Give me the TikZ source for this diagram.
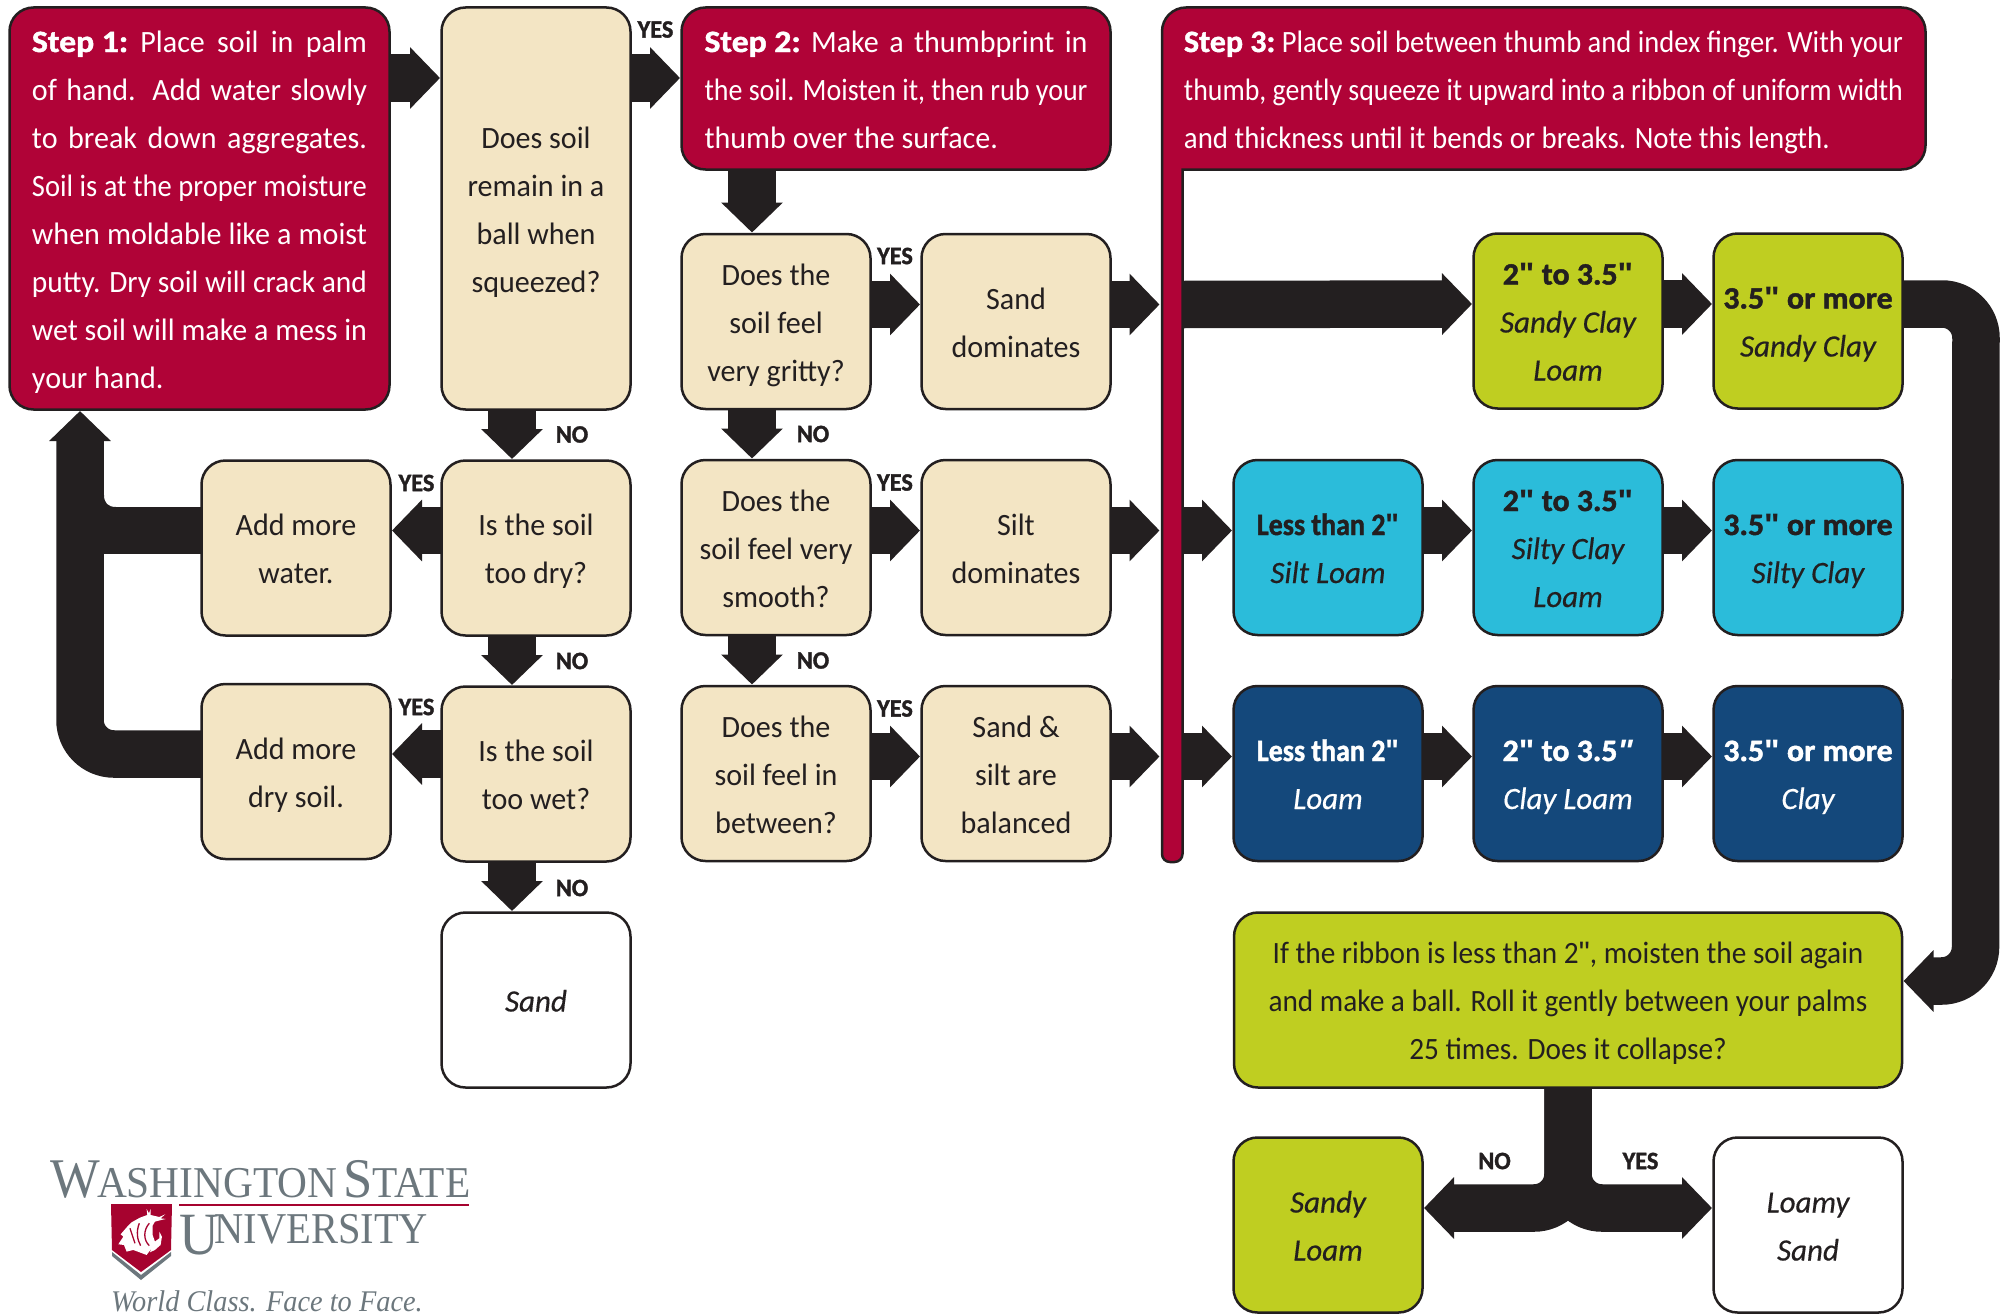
\documentclass[tikz,border=0pt]{standalone}
\usepackage{graphicx}
\usepackage{fontspec}
\setmainfont[FakeStretch=0.97,BoldFeatures={FakeBold=1.4}]{Carlito}
\newfontfamily\ribbonfont[FakeStretch=0.945]{Carlito}
\newfontfamily\soilfont[UprightFont=* Italic,FakeBold=0.4]{Carlito}
\newfontfamily\logofont{Liberation Serif}
\newfontfamily\quotefont{Liberation Sans}
\usetikzlibrary{shapes.geometric,arrows.meta,positioning,calc}
\definecolor{crimson}{HTML}{B00337}
\definecolor{cream}{HTML}{F3E5C4}
\definecolor{olive}{HTML}{BFCE21}
\definecolor{aqua}{HTML}{2BBCDA}
\definecolor{navy}{HTML}{14487B}
\definecolor{ink}{HTML}{231F20}
\definecolor{logogrey}{HTML}{6C777D}
\definecolor{logored}{HTML}{A6032F}
\newsavebox\fitbox
\newcommand\fitline[2]{\sbox\fitbox{#2}\ifdim\wd\fitbox>#1\resizebox{#1}{\height}{\usebox\fitbox}\else\makebox[#1][s]{#2}\fi}
\newcommand\inch{{\quotefont\char"22}}
\newcommand\stepword[1]{\scalebox{1.12}[1]{\textbf{#1}}}
\newcommand\lesstwo{\scalebox{0.93}[1]{\textbf{Less than 2\inch}}}
\newcommand\wideword[1]{\scalebox{1.06}[1]{\textbf{#1}}}
\newcommand\hi{\rule{0pt}{31pt}}
\newcommand\lo{\rule[-8pt]{0pt}{8pt}}

\begin{document}
\begin{tikzpicture}[x=1pt, y=1pt]
	\tikzstyle{box} = [rectangle, rounded corners=24pt, draw=ink, line width=2.5pt, minimum width=189pt, minimum height=175pt,
	inner sep=0pt, outer sep=0pt, text=ink, align=center, font=\fontsize{31}{48}\selectfont]
	\tikzstyle{question} = [box, fill=cream]
	\tikzstyle{stepbox} = [box, fill=crimson, text=white, align=left]
	\tikzstyle{sandy} = [box, fill=olive]
	\tikzstyle{silty} = [box, fill=aqua]
	\tikzstyle{clayey} = [box, fill=navy, text=white]
	\tikzstyle{bare} = [box, fill=white]
	\tikzstyle{answer} = [text=ink, inner sep=0pt, font=\bfseries\fontsize{25}{25}\selectfont]
	\tikzstyle{bigarrow} = [-{Triangle[length=30pt,width=60pt]}, draw=ink, line width=47.5pt, shorten >=1.5pt, rounded corners=34pt]
	\tikzstyle{bigline} = [draw=ink, line width=47.5pt]
	\tikzstyle{logotext} = [text=logogrey, inner sep=0pt, anchor=base west]
	\useasboundingbox (0,0) rectangle (2007,-1314);
	% steps and first column
	\node (stepone) at (199.5,-208.5) [stepbox, minimum width=380pt, minimum height=402pt]
		{\hi\fitline{335pt}{\stepword{Step 1:} Place soil in palm}\\\fitline{335pt}{of hand. Add water slowly}\\\fitline{335pt}{to break down aggregates.}\\\fitline{335pt}{Soil is at the proper moisture}\\\fitline{335pt}{when moldable like a moist}\\\fitline{335pt}{putty. Dry soil will crack and}\\\fitline{335pt}{wet soil will make a mess in}\\your hand.\lo};
	\node (ball) at (536,-208.5) [question, minimum height=402pt] {\hi Does soil\\remain in a\\ball when\\squeezed?\lo};
	\node (dryq) at ($(ball.south)+(0,-138.5)$) [question] {\hi Is the soil\\too dry?\lo};
	\node (wetq) at ($(dryq.south)+(0,-138.5)$) [question] {\hi Is the soil\\too wet?\lo};
	\node (sandend) at ($(wetq.south)+(0,-138.5)$) [bare] {\hi\soilfont Sand\lo};
	\node (addwater) at ($(dryq.west)+(-145.5,0)$) [question] {\hi Add more\\water.\lo};
	\node (adddry) at ($(wetq.west)+(-145.5,2.5)$) [question] {\hi Add more\\dry soil.\lo};
	% second column
	\node (steptwo) at (896,-88.5) [stepbox, minimum width=429pt, minimum height=162pt]
		{\hi\fitline{383pt}{\stepword{Step 2:} Make a thumbprint in}\\\fitline{383pt}{the soil. Moisten it, then rub your}\\thumb over the surface.\lo};
	\node (gritty) at ($(steptwo.south)+(-120,-152)$) [question] {\hi Does the\\soil feel\\very gritty?\lo};
	\node (smooth) at ($(gritty.south)+(0,-138.5)$) [question] {\hi Does the\\soil feel very\\smooth?\lo};
	\node (between) at ($(smooth.south)+(0,-138.5)$) [question] {\hi Does the\\soil feel in\\between?\lo};
	\node (sanddom) at ($(gritty.east)+(145.5,0)$) [question] {\hi Sand\\dominates\lo};
	\node (siltdom) at ($(smooth.east)+(145.5,0)$) [question] {\hi Silt\\dominates\lo};
	\node (balanced) at ($(between.east)+(145.5,0)$) [question] {\hi Sand \&\\silt are\\balanced\lo};
	% step 3 with its stem
	\draw[draw=ink, fill=crimson, line width=2.5pt] [rounded corners=24pt] (1162,-169.5) -- (1162,-7.5) -- (1925.5,-7.5) -- (1925.5,-169.5)
		[sharp corners] -- (1182.5,-169.5) [rounded corners=8pt] -- (1182.5,-862) -- (1162,-862) [sharp corners] -- cycle;
	\coordinate (stemin) at (1183,-170);
	\node (stepthree) at (1543.5,-88.5) [box, draw=none, text=white, align=left, minimum width=763pt, minimum height=162pt]
		{\hi\fitline{719pt}{\stepword{Step 3:} Place soil between thumb and index finger. With your}\\\fitline{719pt}{thumb, gently squeeze it upward into a ribbon of uniform width}\\\scalebox{0.96}[1]{and thickness until it bends or breaks. Note this length.}\lo};
	% ribbon results
	\node (siltloam) at ($(siltdom.east)+(217.5,0)$) [silty] {\hi\lesstwo\\{\soilfont Silt Loam}\lo};
	\node (siltyclayloam) at ($(siltloam.east)+(145.5,0)$) [silty] {\hi\wideword{2\inch{} to 3.5\inch}\\{\soilfont Silty Clay}\\{\soilfont Loam}\lo};
	\node (siltyclay) at ($(siltyclayloam.east)+(145.5,0)$) [silty] {\hi\wideword{3.5\inch{} or more}\\{\soilfont Silty Clay}\lo};
	\node (sandyclayloam) at ($(siltyclayloam.north)+(0,139)$) [sandy] {\hi\wideword{2\inch{} to 3.5\inch}\\{\soilfont Sandy Clay}\\{\soilfont Loam}\lo};
	\node (sandyclay) at ($(sandyclayloam.east)+(145.5,0)$) [sandy] {\hi\wideword{3.5\inch{} or more}\\{\soilfont Sandy Clay}\lo};
	\node (loam) at ($(balanced.east)+(217.5,0)$) [clayey] {\hi\lesstwo\\{\soilfont Loam}\lo};
	\node (clayloam) at ($(loam.east)+(145.5,0)$) [clayey] {\hi\wideword{2\inch{} to 3.5\textit{\inch}}\\{\soilfont Clay Loam}\lo};
	\node (clay) at ($(clayloam.east)+(145.5,0)$) [clayey] {\hi\wideword{3.5\inch{} or more}\\{\soilfont Clay}\lo};
	% ball test
	\node (ribbon) at ($(clayloam.south)+(0,-139)$) [sandy, minimum width=668pt, font=\ribbonfont\fontsize{31}{48}\selectfont] {\hi If the ribbon is less than 2\inch, moisten the soil again\\and make a ball. Roll it gently between your palms\\25 times. Does it collapse?\lo};
	\node (sandyloam) at ($(ribbon.south)+(-240,-137.5)$) [sandy] {\hi{\soilfont Sandy}\\{\soilfont Loam}\lo};
	\node (loamysand) at ($(ribbon.south)+(240,-137.5)$) [bare] {\hi{\soilfont Loamy}\\{\soilfont Sand}\lo};
	% arrows of the first column
	\draw[bigarrow] ($(stepone.north east)+(0,-70.5)$) -- ($(ball.north west)+(0,-70.5)$);
	\draw[bigarrow] ($(ball.north east)+(0,-70.5)$) -- ($(steptwo.north west)+(0,-70.5)$);
	\draw[bigarrow] ($(ball.south)+(-24,0)$) -- ($(dryq.north)+(-24,0)$);
	\draw[bigarrow] ($(dryq.south)+(-24,0)$) -- ($(wetq.north)+(-24,0)$);
	\draw[bigarrow] ($(wetq.south)+(-24,0)$) -- ($(sandend.north)+(-24,0)$);
	\draw[bigarrow] ($(dryq.west)+(0,17.5)$) -- ($(addwater.east)+(0,17.5)$);
	\draw[bigarrow] ($(wetq.west)+(0,20)$) -- ($(adddry.east)+(0,17.5)$);
	\draw[bigarrow] ($(adddry.west)+(0,17.5)$) -- ($(adddry.west)+(-121.5,17.5)$) -- ($(stepone.south west)+(70.5,0)$);
	\draw[bigline] ($(addwater.west)+(0,17.5)$) -- ($(addwater.west)+(-121.5,17.5)$);
	\fill[ink] (104,-495) .. controls (104,-503) and (108,-507) .. (116,-507) -- (104,-507) -- cycle;
	% arrows of the second column
	\draw[bigarrow] ($(steptwo.south)+(-144,0)$) -- ($(gritty.north)+(-24,0)$);
	\draw[bigarrow] ($(gritty.south)+(-24,0)$) -- ($(smooth.north)+(-24,0)$);
	\draw[bigarrow] ($(smooth.south)+(-24,0)$) -- ($(between.north)+(-24,0)$);
	\draw[bigarrow] ($(gritty.east)+(0,17)$) -- ($(sanddom.west)+(0,17)$);
	\draw[bigarrow] ($(smooth.east)+(0,17)$) -- ($(siltdom.west)+(0,17)$);
	\draw[bigarrow] ($(between.east)+(0,17)$) -- ($(balanced.west)+(0,17)$);
	\draw[bigarrow] ($(sanddom.east)+(0,17)$) -- ($(sanddom.east -| stemin)+(-22,17)$);
	\draw[bigarrow] ($(siltdom.east)+(0,17)$) -- ($(siltdom.east -| stemin)+(-22,17)$);
	\draw[bigarrow] ($(balanced.east)+(0,17)$) -- ($(balanced.east -| stemin)+(-22,17)$);
	% arrows of the ribbon results
	\draw[bigarrow] ($(sanddom.east -| stemin)+(0,17)$) -- ($(sandyclayloam.west)+(0,17)$);
	\draw[bigarrow] ($(sandyclayloam.east)+(0,17)$) -- ($(sandyclay.west)+(0,17)$);
	\draw[bigarrow] ($(siltdom.east -| stemin)+(0,17)$) -- ($(siltloam.west)+(0,17)$);
	\draw[bigarrow] ($(siltloam.east)+(0,17)$) -- ($(siltyclayloam.west)+(0,17)$);
	\draw[bigarrow] ($(siltyclayloam.east)+(0,17)$) -- ($(siltyclay.west)+(0,17)$);
	\draw[bigarrow] ($(balanced.east -| stemin)+(0,17)$) -- ($(loam.west)+(0,17)$);
	\draw[bigarrow] ($(loam.east)+(0,17)$) -- ($(clayloam.west)+(0,17)$);
	\draw[bigarrow] ($(clayloam.east)+(0,17)$) -- ($(clay.west)+(0,17)$);
	\draw[bigarrow] ($(sandyclay.east)+(0,17)$) -- ($(sandyclay.east)+(73.5,17)$) -- ($(ribbon.east)+(73.5,19)$) -- ($(ribbon.east)+(0,19)$);
	\draw[bigarrow] (ribbon.south) -- ($(ribbon.south)+(0,-120.5)$) -- ($(sandyloam.east)+(0,17)$);
	\draw[bigarrow] (ribbon.south) -- ($(ribbon.south)+(0,-120.5)$) -- ($(loamysand.west)+(0,17)$);
	% yes and no
	\node (yesball) at ($(ball.east)+(25,179)$) [answer] {YES};
	\node (noball) at ($(ball.south)+(36,-25)$) [answer] {NO};
	\node (nodry) at ($(dryq.south)+(36,-25.5)$) [answer] {NO};
	\node (nowet) at ($(wetq.south)+(36,-26.5)$) [answer] {NO};
	\node (yesdry) at ($(dryq.west)+(-25,65)$) [answer] {YES};
	\node (yeswet) at ($(wetq.west)+(-25,67)$) [answer] {YES};
	\node (yesgritty) at ($(gritty.east)+(24.5,65.5)$) [answer] {YES};
	\node (yessmooth) at ($(smooth.east)+(24.5,65)$) [answer] {YES};
	\node (yesbetween) at ($(between.east)+(24.5,65)$) [answer] {YES};
	\node (nogritty) at ($(gritty.south)+(37,-25)$) [answer] {NO};
	\node (nosmooth) at ($(smooth.south)+(37,-25.5)$) [answer] {NO};
	\node (nosandy) at ($(sandyloam.east)+(72,64)$) [answer] {NO};
	\node (yesloamy) at ($(loamysand.west)+(-73,64)$) [answer] {YES};
	% logo
	\node (logoname) at (50,-1197) [logotext] {\logofont\scalebox{0.94}[1]{\fontsize{56}{56}\selectfont W\kern-3pt\fontsize{44}{44}\selectfont ASHINGTON\kern6pt\fontsize{56}{56}\selectfont S\fontsize{44}{44}\selectfont TATE}};
	\node (logouni) at (179,-1243) [logotext] {\smash{\logofont\scalebox{0.92}[1]{\raisebox{-11pt}{\fontsize{60}{60}\selectfont U}\kern-5pt\fontsize{44}{44}\selectfont NIVERSITY}}};
	\node (logomotto) at (111,-1311) [logotext] {\logofont\itshape\scalebox{0.945}[1]{\fontsize{30}{30}\selectfont World Class. Face to Face.}};
	\draw[logored, line width=2pt] (179,-1205) -- (469,-1205);
	\fill[logored] (111,-1204) -- (172,-1204) -- (171,-1250) -- (141,-1272) -- (112,-1250) -- cycle;
	\fill[logogrey] (112,-1252) -- (141,-1275) -- (171,-1252) -- (171,-1256) -- (141,-1280) -- (112,-1256) -- cycle;
	\begin{scope}[shift={(100,-1195)}, x=0.333pt, y=-0.333pt]
		\fill[white] (55,148) -- (70,125) -- (62,118) -- (82,95) -- (95,82) -- (120,68) -- (142,60) -- (140,42) -- (147,55) -- (152,42) -- (152,60) -- (178,66) -- (196,58) -- (182,70) -- (197,72) -- (180,76) -- (165,80) -- (158,92) -- (158,120) -- (165,140) -- (178,130) -- (178,110) -- (186,125) -- (182,150) -- (165,165) -- (150,172) -- (155,160) -- (140,180) -- (100,165) -- (80,170) -- (72,150) -- cycle;
		\draw[logored, line width=1.3pt] (90,100) -- (105,145) (118,85) .. controls (108,110) and (112,135) .. (122,152) (148,85) .. controls (130,105) and (130,135) .. (148,152);
	\end{scope}
\end{tikzpicture}
\end{document}
